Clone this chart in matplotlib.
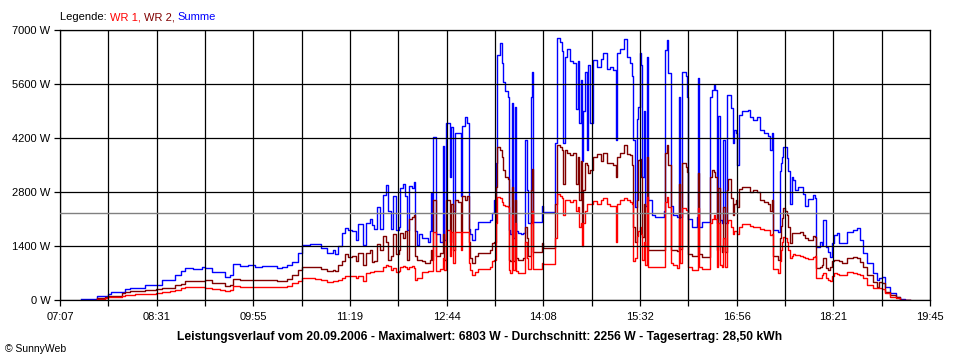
import numpy as np
import matplotlib
matplotlib.use("Agg")
import matplotlib.pyplot as plt
from matplotlib.offsetbox import TextArea, HPacker, AnchoredOffsetbox

plt.rcParams['font.family'] = ['Liberation Sans', 'DejaVu Sans']

# Leistungsverlauf 20.09.2006, values (W)
times = [
    "07:25", "07:38", "07:39", "07:46", "07:49", "07:51", "08:01", "08:04", "08:08", "08:12",
    "08:21", "08:31", "08:36", "08:43", "08:47", "08:52", "08:56", "09:03", "09:11", "09:13",
    "09:19", "09:26", "09:31", "09:35", "09:38", "09:44", "09:51", "09:57", "10:03", "10:10",
    "10:16", "10:20", "10:25", "10:29", "10:34", "10:38", "10:45", "10:49", "10:54", "11:00",
    "11:05", "11:07", "11:09", "11:13", "11:15", "11:18", "11:21", "11:25", "11:27", "11:31",
    "11:34", "11:37", "11:39", "11:41", "11:43", "11:46", "11:48", "11:51", "11:53", "11:55",
    "11:57", "12:00", "12:02", "12:03", "12:06", "12:08", "12:09", "12:11", "12:14", "12:15",
    "12:16", "12:18", "12:20", "12:22", "12:25", "12:28", "12:29", "12:30", "12:31", "12:32",
    "12:34", "12:35", "12:38", "12:41", "12:42", "12:43", "12:45", "12:47", "12:48", "12:49",
    "12:51", "12:54", "12:56", "12:57", "13:00", "13:02", "13:03", "13:04", "13:06", "13:09",
    "13:11", "13:20", "13:22", "13:23", "13:25", "13:27", "13:28", "13:30", "13:32", "13:33",
    "13:35", "13:37", "13:38", "13:39", "13:41", "13:42", "13:43", "13:44", "13:46", "13:49",
    "13:50", "13:52", "13:54", "13:55", "13:57", "13:58", "13:59", "14:05", "14:07", "14:08",
    "14:17", "14:18", "14:20", "14:23", "14:24", "14:25", "14:27", "14:29", "14:31", "14:34",
    "14:37", "14:38", "14:39", "14:41", "14:42", "14:43", "14:44", "14:46", "14:47", "14:49",
    "14:51", "14:55", "14:58", "15:00", "15:04", "15:06", "15:09", "15:11", "15:12", "15:15",
    "15:18", "15:21", "15:24", "15:25", "15:26", "15:28", "15:30", "15:31", "15:32", "15:33",
    "15:34", "15:36", "15:37", "15:38", "15:39", "15:43", "15:45", "15:52", "15:53", "15:54",
    "15:56", "15:57", "15:59", "16:01", "16:05", "16:06", "16:07", "16:09", "16:12", "16:13",
    "16:14", "16:18", "16:22", "16:23", "16:24", "16:26", "16:32", "16:33", "16:35", "16:37",
    "16:38", "16:39", "16:40", "16:42", "16:44", "16:45", "16:46", "16:48", "16:49", "16:52",
    "16:53", "16:54", "16:56", "16:57", "16:59", "17:01", "17:06", "17:08", "17:11", "17:14",
    "17:17", "17:20", "17:24", "17:26", "17:27", "17:28", "17:33", "17:34", "17:35", "17:36",
    "17:37", "17:39", "17:40", "17:41", "17:43", "17:45", "17:46", "17:47", "17:50", "17:52",
    "17:54", "17:56", "17:59", "18:03", "18:05", "18:06", "18:09", "18:11", "18:12", "18:14",
    "18:16", "18:18", "18:20", "18:21", "18:24", "18:26", "18:28", "18:33", "18:38", "18:41",
    "18:44", "18:47", "18:50", "18:55", "18:59", "19:01", "19:03", "19:06", "19:10", "19:15",
    "19:19", "19:23", "19:28",
]

summe = [
    20, 20, 110, 110, 150, 215, 215, 280, 320, 300,
    390, 390, 520, 520, 650, 760, 840, 810, 865, 840,
    735, 735, 605, 640, 925, 880, 900, 860, 890, 870,
    840, 850, 900, 990, 1210, 1425, 1450, 1440, 1340, 1230,
    1300, 1180, 1400, 1730, 1860, 1820, 1780, 1555, 1960, 1430,
    2000, 2100, 1950, 1850, 2400, 1840, 2720, 2980, 2300, 1840,
    2700, 1815, 1900, 2900, 3000, 2700, 1815, 2950, 2900, 3070,
    1800, 1430, 1700, 1600, 1600, 1500, 1800, 2770, 1800, 4230,
    4230, 1700, 1500, 4000, 1550, 4580, 4580, 3200, 4490, 2300,
    4320, 4320, 2700, 4500, 4750, 4600, 1840, 1700, 1555, 1840,
    2030, 2030, 2075, 2250, 2590, 3540, 6350, 6670, 6140, 5660,
    5420, 5270, 1815, 1700, 5100, 1600, 5010, 1800, 1730, 1700,
    1730, 4150, 2850, 2000, 5270, 5920, 2030, 2030, 2450, 2290,
    2290, 4060, 6780, 6700, 6450, 4060, 6300, 6500, 6200, 6150,
    4950, 6200, 4580, 5700, 3600, 4900, 5900, 3900, 6100, 4580,
    6230, 6050, 6250, 6400, 6000, 6050, 5950, 4150, 6400, 6500,
    6770, 6300, 6150, 5800, 4150, 2400, 4700, 5000, 6400, 6100,
    3200, 4900, 2450, 6300, 2600, 2200, 2140, 2140, 2300, 6480,
    6740, 5880, 2450, 2200, 2150, 5270, 2140, 5920, 5800, 5270,
    2100, 1900, 2140, 5750, 1900, 2030, 2030, 5270, 5440, 5570,
    5440, 2000, 4760, 2070, 2000, 4150, 2000, 5310, 5310, 4970,
    4060, 4400, 4320, 3500, 4800, 4890, 4930, 4750, 4670, 4750,
    4410, 4320, 4240, 3900, 4320, 1815, 1770, 3350, 3540, 3700,
    3970, 3970, 3670, 3350, 2500, 3200, 3110, 2850, 2920, 2920,
    2750, 2450, 2620, 2710, 2650, 1380, 1500, 1420, 2075, 1380,
    1250, 1125, 1470, 1685, 1730, 1470, 1470, 1770, 1820, 1860,
    1560, 1210, 950, 690, 520, 560, 600, 350, 175, 90,
    20, 10, 0,
]

wr2 = [
    None, None, 60, 80, 100, 110, 180, 215, 225, 240,
    260, 280, 300, 320, 390, 420, 480, 500, 500, 520,
    450, 430, 370, 400, 545, 520, 530, 515, 520, 510,
    500, 495, 540, 650, 780, 865, 865, 860, 800, 760,
    790, 760, 900, 1000, 1190, 1120, 1140, 1000, 1230, 910,
    1230, 1300, 980, 1000, 1450, 1300, 1650, 1500, 1050, 1140,
    1700, 1200, 1300, 1750, 1600, 1800, 1040, 2100, 2150, 2200,
    1140, 1040, 1040, 1000, 950, 970, 1040, 1300, 1040, 2590,
    2590, 1140, 1230, 1700, 1040, 2590, 2590, 1500, 2500, 1300,
    2600, 2550, 1800, 2700, 2600, 2700, 1500, 1100, 950, 1140,
    1210, 1210, 1300, 1470, 1500, 2940, 3970, 3900, 3700, 3370,
    3200, 3150, 1040, 1000, 2940, 1000, 2600, 1100, 1050, 1050,
    1100, 1900, 1600, 1150, 2850, 3400, 1250, 1250, 1470, 1340,
    1340, 2500, 4020, 3970, 3900, 3000, 3900, 3800, 3750, 3800,
    3000, 3700, 2590, 3600, 2000, 2850, 3550, 3500, 3300, 3370,
    3720, 3780, 3600, 3800, 3540, 3540, 3500, 3200, 3700, 3800,
    4020, 3780, 3750, 3500, 1900, 1500, 2600, 3640, 3660, 3200,
    1640, 2500, 1400, 3720, 1300, 1300, 1300, 1300, 1300, 3800,
    4020, 3500, 1300, 1300, 1260, 3000, 1330, 3540, 3450, 3330,
    1200, 1140, 1140, 3300, 1200, 1120, 1120, 3200, 3370, 3330,
    3200, 1300, 2900, 1400, 1250, 2400, 1250, 2850, 3150, 2650,
    2200, 2500, 2600, 2400, 2890, 2940, 2940, 2800, 2850, 2800,
    2590, 2550, 2500, 2300, 2590, 1140, 1040, 1600, 1920, 2120,
    2380, 2300, 2200, 1900, 1470, 1730, 1730, 1730, 1730, 1770,
    1690, 1600, 1550, 1650, 1640, 820, 860, 900, 1080, 820,
    780, 860, 1010, 1040, 1040, 1000, 950, 1080, 1110, 1080,
    990, 860, 650, 475, 350, 475, 450, 220, 130, 70,
    10, 0, 0,
]

wr1 = [
    None, None, 30, 50, 70, 70, 110, 130, 130, 145,
    155, 190, 220, 240, 260, 300, 330, 330, 330, 320,
    290, 270, 235, 260, 370, 345, 350, 340, 350, 345,
    340, 335, 370, 430, 500, 560, 560, 555, 520, 470,
    490, 480, 520, 560, 630, 620, 620, 560, 620, 490,
    700, 735, 720, 740, 760, 740, 860, 910, 880, 780,
    840, 730, 760, 865, 880, 860, 800, 865, 870, 840,
    520, 560, 580, 735, 730, 740, 750, 760, 740, 1770,
    1770, 760, 800, 1100, 780, 1815, 1815, 1140, 1770, 950,
    1770, 1770, 1300, 1770, 1770, 1770, 950, 780, 650, 720,
    795, 795, 865, 1000, 1040, 2000, 2680, 2650, 2550, 2460,
    2450, 2400, 780, 700, 2200, 780, 2000, 750, 700, 690,
    690, 1500, 1100, 800, 2000, 2300, 795, 795, 950, 925,
    925, 1600, 2750, 2700, 2650, 2200, 2600, 2600, 2550, 2600,
    2300, 2400, 1900, 2000, 1400, 2000, 2300, 2500, 2500, 2500,
    2560, 2500, 2590, 2640, 2500, 2450, 2450, 1500, 2500, 2600,
    2640, 2590, 2550, 2500, 1000, 1100, 1650, 1800, 1900, 1700,
    1030, 1500, 900, 2680, 865, 865, 865, 865, 865, 2550,
    2680, 2400, 950, 900, 820, 2100, 950, 2380, 2330, 2330,
    865, 780, 780, 2380, 865, 795, 795, 2000, 2100, 2200,
    2100, 865, 2000, 900, 865, 1600, 865, 1990, 2070, 1900,
    1700, 1800, 1800, 1700, 1900, 1970, 1970, 1930, 1900, 1900,
    1850, 1820, 1810, 1680, 1720, 810, 690, 1000, 1300, 1500,
    1640, 1600, 1510, 1300, 1080, 1130, 1200, 1160, 1160, 1130,
    1120, 1080, 1070, 1120, 1130, 560, 560, 640, 690, 560,
    520, 500, 620, 700, 670, 650, 640, 715, 710, 680,
    640, 560, 380, 320, 300, 300, 280, 170, 80, 40,
    5, 0, 0,
]

mittel = 2256  # Durchschnitt
tick_labels = ["07:07", "08:31", "09:55", "11:19", "12:44",
               "14:08", "15:32", "16:56", "18:21", "19:45"]
y_ticks = [0, 1400, 2800, 4200, 5600, 7000]

t = np.array([int(s[:2]) * 60 + int(s[3:]) for s in times])
summe = np.array(summe, dtype=float)
wr1 = np.array([np.nan if v is None else v for v in wr1], dtype=float)
wr2 = np.array([np.nan if v is None else v for v in wr2], dtype=float)

t0, t1 = 7 * 60 + 7, 19 * 60 + 45

fig = plt.figure(figsize=(9.6, 3.6), dpi=100)
ax = fig.add_axes([60 / 960, 60 / 360, 870 / 960, 270 / 360])

ax.step(t, summe, where='post', color='#0000ff', lw=1.0, zorder=2.0)
ax.step(t, wr2, where='post', color='#800000', lw=1.0, zorder=2.1)
ax.step(t, wr1, where='post', color='#ff0000', lw=1.0, zorder=2.2)
ax.axhline(mittel, color='#808080', lw=1.0, zorder=3)

ax.set_xlim(t0, t1)
ax.set_ylim(0, 7000)

xt = np.linspace(t0, t1, 19)
ax.set_xticks(xt)
labels = []
for i in range(19):
    labels.append(tick_labels[i // 2] if i % 2 == 0 else "")
ax.set_xticklabels(labels)
ax.set_yticks(y_ticks)
ax.set_yticklabels([f"{v} W" for v in y_ticks])

ax.set_axisbelow(False)
ax.grid(True, color='black', lw=0.9)
for sp in ax.spines.values():
    sp.set_color('black')
    sp.set_linewidth(0.9)
ax.tick_params(direction='out', length=4, width=0.9, colors='black',
               labelsize=8, pad=3)
ax.tick_params(axis='x', pad=5)

fig.text(0.5, 1 - 337 / 360,
         "Leistungsverlauf vom 20.09.2006 - Maximalwert: 6803 W - "
         "Durchschnitt: 2256 W - Tagesertrag: 28,50 kWh",
         ha='center', va='center', fontsize=8.7, fontweight='bold')
fig.text(5 / 960, 1 - 349 / 360, "\u00a9 SunnyWeb", ha='left', va='center',
         fontsize=7.5)

parts = [("Legende: ", 'black'), ("WR 1, ", '#ff0000'),
         ("WR 2, ", '#800000'), ("Summe", '#0000ff')]
boxes = [TextArea(s, textprops=dict(color=c, fontsize=8)) for s, c in parts]
pack = HPacker(children=boxes, align='baseline', pad=0, sep=0)
anch = AnchoredOffsetbox(loc='center left', child=pack, pad=0, borderpad=0,
                         frameon=False, bbox_to_anchor=(60 / 960, 1 - 17 / 360),
                         bbox_transform=fig.transFigure)
fig.add_artist(anch)

plt.savefig('out.png', dpi=100)
